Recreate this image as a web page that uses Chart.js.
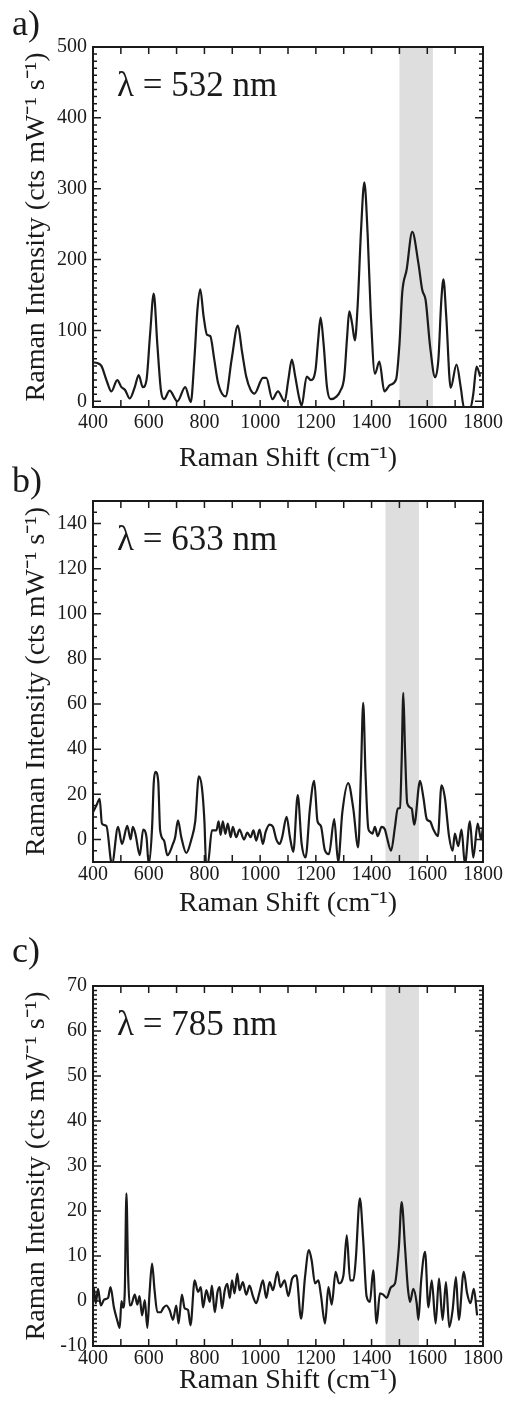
<!DOCTYPE html>
<html>
<head>
<meta charset="utf-8">
<title>Raman spectra</title>
<script src="https://cdn.jsdelivr.net/npm/chart.js@4.4.0/dist/chart.umd.min.js"></script>
<style>
  body { margin: 0; background: #fff; width: 509px; height: 1411px; position: relative; overflow: hidden; }
  canvas { position: absolute; left: 0; }
</style>
</head>
<body>
<canvas id="chartA" width="509" height="480" style="top:0px"></canvas>
<canvas id="chartB" width="509" height="480" style="top:460px"></canvas>
<canvas id="chartC" width="509" height="481" style="top:930px"></canvas>
<script>
// Raman spectra at three excitation wavelengths

var xTicks = [400, 600, 800, 1000, 1200, 1400, 1600, 1800];
var yTicksA = [0, 100, 200, 300, 400, 500];
var yTicksB = [0, 20, 40, 60, 80, 100, 120, 140];
var yTicksC = [-10, 0, 10, 20, 30, 40, 50, 60, 70];

var panelNames = ["a)", "b)", "c)"];
var laserLabels = ["λ = 532 nm", "λ = 633 nm", "λ = 785 nm"];

// shaded band (cm-1)
var bandA = [1500, 1620];
var bandB = [1450, 1570];
var bandC = [1450, 1570];

// a) 532 nm
var shiftA = [400, 415, 430, 450, 466, 487, 502, 515, 532, 550, 564, 579, 592, 605, 618, 631, 644, 655, 675, 703,
    731, 751, 764, 775, 785, 797, 809, 821, 835, 849, 876, 898, 920, 935, 950, 966, 980, 1010, 1022, 1044,
    1064, 1088, 1101, 1114, 1126, 1140, 1149, 1167, 1182, 1199, 1208, 1217, 1228, 1240, 1253, 1275, 1287, 1302, 1312, 1320,
    1330, 1340, 1350, 1362, 1374, 1386, 1397, 1412, 1428, 1446, 1466, 1488, 1500, 1510, 1526, 1546, 1568, 1582, 1594, 1610,
    1628, 1640, 1650, 1658, 1668, 1684, 1705, 1720, 1732, 1755, 1765, 1777, 1790];
var intensityA = [55, 54, 50, 28, 14, 30, 20, 16, 4, 20, 37, 20, 30, 95, 152, 80, 15, 3, 15, 0,
    20, -1, 60, 130, 158, 120, 94, 92, 60, 26, 7, 60, 107, 70, 35, 16, 11, 33, 33, 3,
    14, 0, 30, 59, 35, 5, -6, 35, 30, 45, 85, 118, 80, 20, 3, 7, 14, 35, 90, 127,
    110, 86, 135, 240, 309, 235, 125, 39, 56, 14, 23, 31, 80, 153, 186, 239, 195, 157, 143, 78,
    34, 60, 140, 172, 120, 19, 52, 20, -9, -9, 10, 49, 35];

// b) 633 nm
var shiftB = [400, 412, 424, 432, 448, 468, 490, 504, 523, 535, 543, 553, 568, 580, 592, 600, 612, 618, 624, 634,
    641, 655, 667, 687, 695, 705, 717, 735, 753, 767, 780, 791, 800, 806, 812, 827, 843, 851, 858, 866,
    875, 884, 894, 902, 914, 926, 942, 954, 966, 976, 986, 998, 1010, 1019, 1034, 1046, 1058, 1070, 1079, 1095,
    1107, 1119, 1135, 1149, 1163, 1179, 1194, 1206, 1218, 1232, 1247, 1266, 1280, 1295, 1316, 1334, 1352, 1362, 1370, 1378,
    1388, 1394, 1403, 1412, 1422, 1436, 1448, 1454, 1470, 1484, 1494, 1502, 1508, 1514, 1520, 1528, 1544, 1553, 1574, 1586,
    1598, 1610, 1622, 1638, 1651, 1663, 1678, 1691, 1699, 1711, 1723, 1735, 1753, 1765, 1781, 1793, 1800];
var intensityB = [12, 15, 18, 7, 6, -11, 5.6, -2, 6, 0, 5.6, 2, -7, 4.4, 1, -11, 5, 25, 30, 26,
    4, -0.5, -7, -2, 1, 8.5, 1, -6, 0, 8, 28, 23, 8, -11, -11, 4, 4, 8, 2, 8,
    2.5, 7, 1, 5.6, 1, 4.4, 0, 3, 1, 4, -0.5, 4.4, -2, 3, 6.6, 5.6, 0, -2, 1, 10,
    1, -5.5, 19.6, -2, -8, 14, 26, 8, 6, -4.6, -6.5, 9, -10, 12, 25, 14, -3.5, 30, 60.5, 30,
    5, 3.4, 2.6, 5.6, 1.5, 5.6, 4.4, 1.5, -5, 5.6, 13.7, 14, 35, 65, 40, 16, 13.7, 6.5, 26, 18.6,
    9, 8, 4.4, 1.5, 24, 18.6, 1.5, -5, 2.6, -3, 4.4, -11, 8, -8, 7, 0, 5.6];

// c) 785 nm
var shiftC = [400, 404, 410, 418, 428, 440, 454, 463, 475, 487, 496, 502, 508, 514, 520, 526, 532, 538, 550, 559,
    567, 576, 586, 595, 603, 612, 621, 631, 643, 653, 663, 675, 687, 699, 707, 719, 729, 741, 750, 765,
    777, 787, 795, 807, 819, 827, 837, 847, 855, 863, 873, 882, 891, 899, 908, 918, 926, 938, 950, 962,
    974, 986, 998, 1010, 1022, 1034, 1046, 1062, 1073, 1088, 1101, 1115, 1130, 1147, 1161, 1175, 1185, 1197, 1209, 1218,
    1233, 1245, 1257, 1271, 1283, 1299, 1311, 1323, 1335, 1343, 1358, 1370, 1382, 1394, 1406, 1418, 1430, 1442, 1454, 1470,
    1484, 1498, 1508, 1520, 1530, 1538, 1550, 1562, 1568, 1578, 1592, 1604, 1616, 1630, 1642, 1655, 1667, 1679, 1691, 1703,
    1713, 1731, 1743, 1755, 1767, 1779];
var intensityC = [3, 2.4, -0.5, 2.7, -1, 0.3, 0.7, 3.1, -1.4, -4.3, -6, 0, -1.5, 2, 23.9, 6, -1, -0.8, 1.4, -0.8,
    1.1, -3.2, 0.2, -6, 1.8, 8.3, 2.4, -2.5, -2.5, -1.5, -1, -2, -4.2, -1, -5, 1.4, -1.6, -2, -5.4, 4.6,
    2, 3.1, -1.4, 2.4, -0.2, 3.4, -2.5, 2, 3.1, -1.6, 2.4, 3.8, 0.7, 4.6, 1.7, 6.1, 2.4, 4.2, 1.4, 3.4,
    1.1, -0.5, 2, 4.6, 0.7, 4.2, 2.4, 6.5, 3.1, 4.6, 1.1, 5, 5.7, -3.9, 5.3, 11.3, 9, 3.9, 4.6, 1.4,
    -5, 3.1, -0.8, 6.5, 3.9, 5.7, 14.6, 4.6, 4.6, 9, 22.8, 13.5, 1.1, -0.2, 6.8, -5, 1.7, 1.4, 0.7, 3.1,
    3.9, 12, 22, 12, 3.1, -0.2, 2.7, -0.5, -4.2, 4.6, 10.9, -1.4, 4.6, -5, 5, -4.2, 4.2, -5.8, -2, 5.3,
    -4.2, 6.5, 1.7, -0.5, 2.7, -3.2];

var ink = "#1a1a1a";
var serif = "'Liberation Serif', 'Times New Roman', serif";
Chart.defaults.font.family = serif;
Chart.defaults.color = ink;

// shaded band, frame with inward ticks, panel letter and laser label
var ramanFrame = {
    id: "ramanFrame",
    beforeDatasetsDraw: function(chart, args, opts) {
        var ctx = chart.ctx, a = chart.chartArea, xs = chart.scales.x;
        var x0 = xs.getPixelForValue(opts.band[0]);
        var x1 = xs.getPixelForValue(opts.band[1]);
        ctx.save();
        ctx.fillStyle = "#dedede";
        ctx.fillRect(x0, a.top, x1 - x0, a.bottom - a.top);
        ctx.restore();
    },
    afterDatasetsDraw: function(chart, args, opts) {
        var ctx = chart.ctx, a = chart.chartArea, xs = chart.scales.x, ys = chart.scales.y;
        var i, n, v, p;
        ctx.save();
        ctx.strokeStyle = ink;
        ctx.lineWidth = 1.5;
        ctx.beginPath();
        // x ticks, top and bottom
        n = Math.round((xs.max - xs.min) / opts.xStep);
        for (i = 0; i <= n; i++) {
            p = xs.getPixelForValue(xs.min + i * opts.xStep);
            ctx.moveTo(p, a.bottom); ctx.lineTo(p, a.bottom - 7);
            ctx.moveTo(p, a.top); ctx.lineTo(p, a.top + 7);
        }
        // y minor ticks
        n = Math.round((ys.max - ys.min) / opts.yMinor);
        for (i = 0; i <= n; i++) {
            v = Math.ceil(ys.min / opts.yMinor) * opts.yMinor + i * opts.yMinor;
            if (v > ys.max) break;
            p = ys.getPixelForValue(v);
            ctx.moveTo(a.left, p); ctx.lineTo(a.left + 4, p);
            ctx.moveTo(a.right, p); ctx.lineTo(a.right - 4, p);
        }
        // y major ticks
        ys.ticks.forEach(function(t) {
            p = ys.getPixelForValue(t.value);
            ctx.moveTo(a.left, p); ctx.lineTo(a.left + 8, p);
            ctx.moveTo(a.right, p); ctx.lineTo(a.right - 8, p);
        });
        ctx.stroke();
        ctx.lineWidth = 2;
        ctx.strokeRect(a.left, a.top, a.right - a.left, a.bottom - a.top);

        ctx.fillStyle = ink;
        ctx.textBaseline = "alphabetic";
        ctx.textAlign = "left";
        ctx.font = "35px " + serif;
        ctx.fillText(opts.laser, a.left + 24, a.top + 49);
        ctx.font = "36px " + serif;
        ctx.fillText(opts.name, 12, opts.nameY);
        ctx.restore();
    }
};

function plainLabel(v) {
    return String(v);
}

function makePanel(id, xs, ys, yMin, yMax, yTicks, yMinor, band, k, lay) {
    var points = xs.map(function(x, i) { return { x: x, y: ys[i] }; });
    var h = document.getElementById(id).height;
    return new Chart(document.getElementById(id), {
        type: "line",
        data: {
            datasets: [{
                data: points,
                borderColor: ink,
                borderWidth: 2.2,
                pointRadius: 0,
                cubicInterpolationMode: "monotone",
                fill: false
            }]
        },
        options: {
            responsive: false,
            animation: false,
            devicePixelRatio: 1,
            layout: { padding: { top: lay.top, right: 26, left: 0, bottom: 0 } },
            scales: {
                x: {
                    type: "linear",
                    min: 400,
                    max: 1800,
                    grid: { display: false, drawTicks: false },
                    border: { display: false },
                    afterBuildTicks: function(s) { s.ticks = xTicks.map(function(v) { return { value: v }; }); },
                    afterFit: function(s) { s.height = h - lay.bottom; },
                    ticks: { font: { size: 20 }, padding: lay.xPad, maxRotation: 0, autoSkip: false, callback: plainLabel },
                    title: {
                        display: true,
                        text: "Raman Shift (cm⁻¹)",
                        font: { size: 28, lineHeight: 1.2 },
                        padding: { top: 0, bottom: lay.titlePad }
                    }
                },
                y: {
                    min: yMin,
                    max: yMax,
                    grid: { display: false, drawTicks: false },
                    border: { display: false },
                    afterBuildTicks: function(s) { s.ticks = yTicks.map(function(v) { return { value: v }; }); },
                    afterFit: function(s) { s.width = 93; },
                    ticks: { font: { size: 20 }, padding: 6, callback: plainLabel },
                    title: {
                        display: true,
                        text: "Raman Intensity (cts mW⁻¹ s⁻¹)",
                        font: { size: 28, lineHeight: 1.2 },
                        padding: { top: 20, bottom: 0 }
                    }
                }
            },
            plugins: {
                legend: { display: false },
                tooltip: { enabled: false },
                ramanFrame: {
                    band: band,
                    xStep: 100,
                    yMinor: yMinor,
                    laser: laserLabels[k],
                    name: panelNames[k],
                    nameY: lay.nameY
                }
            }
        },
        plugins: [ramanFrame]
    });
}

makePanel("chartA", shiftA, intensityA, -8, 500, yTicksA, 10, bandA, 0,
    { top: 47, bottom: 407, xPad: 4, titlePad: 5, nameY: 35 });
makePanel("chartB", shiftB, intensityB, -10, 150, yTicksB, 5, bandB, 1,
    { top: 41, bottom: 402, xPad: 1, titlePad: 20, nameY: 32 });
makePanel("chartC", shiftC, intensityC, -10, 70, yTicksC, 1, bandC, 2,
    { top: 56, bottom: 416, xPad: 1, titlePad: 14, nameY: 32 });
</script>
</body>
</html>
